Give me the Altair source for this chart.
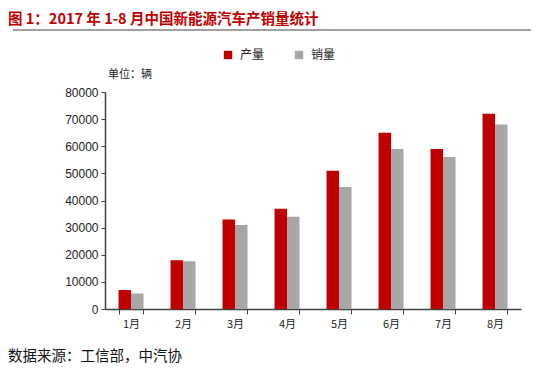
import altair as alt
import pandas as pd

months = ["1月", "2月", "3月", "4月", "5月", "6月", "7月", "8月"]
production = [7000, 18000, 33000, 37000, 51000, 65000, 59000, 72000]
sales = [5700, 17600, 31000, 34000, 45000, 59000, 56000, 68000]
series_names = ["产量", "销量"]
y_ticks = [0, 10000, 20000, 30000, 40000, 50000, 60000, 70000, 80000]

title_text = "图 1：2017 年 1-8 月中国新能源汽车产销量统计"
unit_text = "单位：辆"
source_text = "数据来源：工信部，中汽协"

rows = []
for m, p, s in zip(months, production, sales):
    rows.append({"month": m, "series": series_names[0], "value": p})
    rows.append({"month": m, "series": series_names[1], "value": s})
df = pd.DataFrame(rows)

FONT = "Noto Sans CJK SC"

bars = alt.Chart(df).mark_bar().encode(
    x=alt.X("month:N", sort=months, title=None,
            scale=alt.Scale(paddingInner=0.52, paddingOuter=0.26),
            axis=alt.Axis(labelAngle=0, tickBand="extent", tickSize=5,
                          domainColor="#404040", tickColor="#404040",
                          labelColor="#222222", labelFontSize=11, labelFont=FONT,
                          labelPadding=4, domainWidth=1.5)),
    xOffset=alt.XOffset("series:N", sort=series_names,
                        scale=alt.Scale(paddingInner=0, paddingOuter=0)),
    y=alt.Y("value:Q", title=None,
            scale=alt.Scale(domain=[0, 80000], nice=False),
            axis=alt.Axis(values=y_ticks, format="d", grid=False, tickSize=4,
                          domainColor="#404040", tickColor="#404040",
                          labelColor="#222222", labelFontSize=12, labelFont="Liberation Sans",
                          labelPadding=3, domainWidth=1.5)),
    color=alt.Color("series:N", sort=series_names,
                    scale=alt.Scale(domain=series_names, range=["#C00000", "#A6A6A6"]),
                    legend=alt.Legend(title=None, orient="none", direction="horizontal",
                                      legendX=117, legendY=-43, symbolType="square",
                                      symbolSize=70, symbolStrokeWidth=0,
                                      labelFontSize=12, labelFont=FONT, labelColor="#222222",
                                      columnPadding=28, labelOffset=6)),
)

title = alt.Chart(pd.DataFrame({"t": [title_text]})).mark_text(
    align="left", baseline="middle", font=FONT, fontSize=14.5, fontWeight="bold",
    color="#C00000").encode(text="t:N", x=alt.value(-97), y=alt.value(-72))

rule = alt.Chart(pd.DataFrame({"a": [0]})).mark_rule(color="#808080", strokeWidth=1.5).encode(
    x=alt.value(-92), x2=alt.value(426), y=alt.value(-62))

unit = alt.Chart(pd.DataFrame({"t": [unit_text]})).mark_text(
    align="left", baseline="middle", font=FONT, fontSize=11,
    color="#222222").encode(text="t:N", x=alt.value(3), y=alt.value(-17))

source = alt.Chart(pd.DataFrame({"t": [source_text]})).mark_text(
    align="left", baseline="middle", font=FONT, fontSize=14.5,
    color="#111111").encode(text="t:N", x=alt.value(-97), y=alt.value(265))

chart = alt.layer(bars, title, rule, unit, source).properties(
    width=416, height=217,
    padding={"left": 97, "top": 84, "right": 10, "bottom": 58},
    autosize=alt.AutoSizeParams(type="none"),
).configure_view(stroke=None)

chart.save("out.html", embed_options={"renderer": "svg", "actions": False})
